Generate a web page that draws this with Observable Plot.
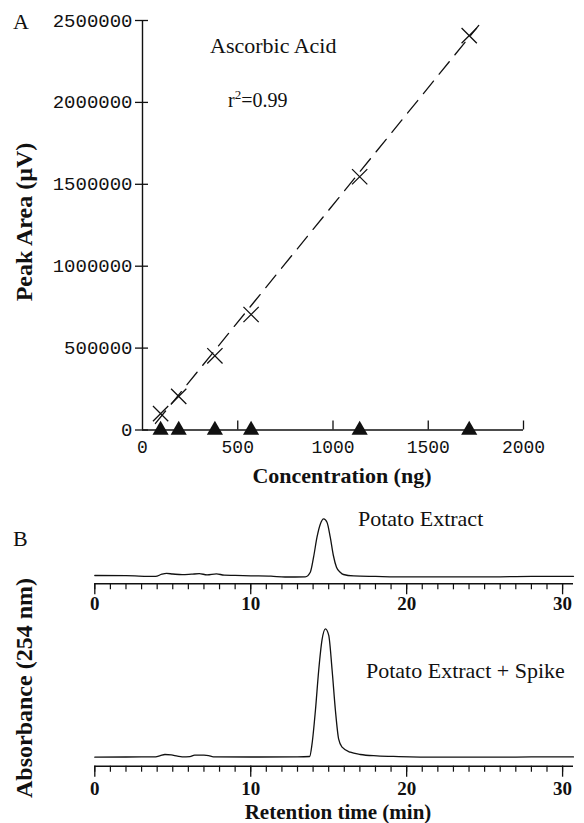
<!DOCTYPE html>
<html><head><meta charset="utf-8">
<script src="https://cdn.jsdelivr.net/npm/d3@7"></script>
<script src="https://cdn.jsdelivr.net/npm/@observablehq/plot@0.6"></script>
<style>
body{margin:0;background:#fff;}
#root{position:relative;width:584px;height:823px;overflow:hidden;background:#fff;}
#root > svg{position:absolute;left:0;margin:0;overflow:visible;}
</style></head><body><div id="root"></div>
<script>
// ---- Panel A data ----
const concentration = [95, 190, 380, 570, 1140, 1715];
const peakArea = [100000, 205000, 453000, 705000, 1546000, 2408000];
const blankArea = [0, 0, 0, 0, 0, 0];
const fitConcentration = [68, 1765];
const fitArea = [40000, 2470000];
const concTicks = [0, 500, 1000, 1500, 2000];
const areaTicks = [0, 500000, 1000000, 1500000, 2000000, 2500000];

// ---- Panel B data ----
const extractTime = [0, 2, 3.9, 4.3, 4.6, 5.0, 5.6, 6.2, 6.7, 7.2, 7.8, 8.3, 9, 10, 11.3, 12.2, 13.5, 13.82, 14.03, 14.25, 14.46, 14.68, 14.89, 15.1, 15.3, 15.5, 15.74, 15.95, 16.6, 18, 20, 23, 26, 28, 30.7];
const extractAbs = [1.7, 1.5, 0.8, 3.0, 3.8, 3.2, 2.5, 3.0, 3.5, 2.4, 3.4, 2.0, 1.8, 1.4, 1.0, 0.2, 0.4, 5, 20, 40, 53, 58.3, 55, 40, 21.7, 10, 5, 2.7, 1.3, 0.8, 0.3, 0.3, 0.4, 0.8, 0.9];
const spikeTime = [0, 2, 3.9, 4.2, 4.5, 4.9, 5.3, 5.6, 6.1, 6.4, 7.0, 7.3, 7.6, 10, 13.0, 13.78, 13.93, 14.15, 14.36, 14.57, 14.79, 15.0, 15.22, 15.43, 15.64, 15.86, 16.39, 17.03, 18.1, 19.5, 22, 26, 28, 30.7];
const spikeAbs = [0, 0.2, 0.3, 1.5, 2.7, 2.3, 1.0, 0.3, 0.5, 2.0, 2.0, 1.6, 0.3, 0.2, 0.3, 0.7, 13, 47, 87, 117, 128.3, 122, 87, 47, 18, 10, 5, 2.7, 1.3, 0.6, 0, 0, 0.3, 0.3];
const timeMajorTicks = [0, 10, 20, 30];
const timeMinorTicks = [0,1,2,3,4,5,6,7,8,9,10,11,12,13,14,15,16,17,18,19,20,21,22,23,24,25,26,27,28,29,30];

const root = document.getElementById("root");
const pts = concentration.map((c, i) => ({c, a: peakArea[i]}));
const blanks = concentration.map((c, i) => ({c, a: blankArea[i]}));
const fit = fitConcentration.map((c, i) => ({c, a: fitArea[i]}));

const mono = "'Liberation Mono', 'DejaVu Sans Mono', monospace";
const serif = "'Liberation Serif', 'DejaVu Serif', serif";

const plotA = Plot.plot({
  width: 584, height: 460,
  marginLeft: 142, marginRight: 61, marginTop: 20, marginBottom: 30.5,
  x: {domain: [0, 2000], label: null},
  y: {domain: [0, 2500000], label: null},
  style: {fontFamily: mono, fontSize: "18px", color: "#111", background: "none", overflow: "visible"},
  marks: [
    Plot.ruleX([0], {y1: 0, y2: 2500000, strokeWidth: 1.4}),
    Plot.ruleY([0], {x1: 0, x2: 2000, strokeWidth: 1.4}),
    Plot.axisY(areaTicks, {tickSize: 13, dx: 6, fill: "none", strokeWidth: 1.3, label: null}),
    Plot.axisY(areaTicks, {tickSize: 0, tickPadding: 10, tickFormat: d => String(d), fontSize: 19, label: null}),
    Plot.axisX(concTicks.slice(1), {tickSize: 9, dy: -9, fill: "none", strokeWidth: 1.3, label: null}),
    Plot.axisX(concTicks, {tickSize: 0, tickPadding: 10, tickFormat: d => String(d), fontSize: 18, label: null}),
    Plot.line(fit, {x: "c", y: "a", stroke: "#111", strokeWidth: 1.3, strokeDasharray: "16,9"}),
    Plot.dot(pts, {x: "c", y: "a", symbol: "times", r: 7, stroke: "#111", strokeWidth: 1.3}),
    Plot.dot(blanks, {x: "c", y: "a", symbol: "triangle", r: 6, fill: "#111", stroke: "none"})
  ]
});
plotA.style.top = "0px";
root.appendChild(plotA);

function chromatogram(times, abs, top, height, marginBottom, yDomain, pad) {
  const data = times.map((t, i) => ({t, v: abs[i]}));
  const p = Plot.plot({
    width: 584, height,
    marginLeft: 94.3, marginRight: 11, marginTop: 0, marginBottom,
    x: {domain: [0, 30.7], label: null},
    y: {domain: yDomain, label: null, axis: null},
    style: {fontFamily: serif, fontSize: "19px", fontWeight: "bold", color: "#111", background: "none", overflow: "visible"},
    marks: [
      Plot.ruleY([yDomain[0]], {x1: 0, x2: 30.7, strokeWidth: 1.4}),
      Plot.axisX(timeMinorTicks, {tickSize: 6, fill: "none", strokeWidth: 1.2, label: null}),
      Plot.axisX(timeMajorTicks, {tickSize: 11, fill: "none", strokeWidth: 1.3, label: null}),
      Plot.axisX(timeMajorTicks, {tickSize: 0, tickPadding: pad, tickFormat: d => String(d), fontSize: 19, fontWeight: "bold", label: null}),
      Plot.line(data, {x: "t", y: "v", curve: "monotone-x", stroke: "#111", strokeWidth: 1.3})
    ]
  });
  p.style.top = top + "px";
  root.appendChild(p);
}
chromatogram(extractTime, extractAbs, 505, 110, 31.7, [-6.6, 71.7], 13);
chromatogram(spikeTime, spikeAbs, 600, 200, 34.3, [-9, 156.7], 15);

// ---- text layer ----
const ns = "http://www.w3.org/2000/svg";
const overlay = document.createElementNS(ns, "svg");
overlay.setAttribute("width", 584);
overlay.setAttribute("height", 823);
overlay.style.top = "0px";
overlay.style.pointerEvents = "none";
overlay.innerHTML = `
<g font-family="${serif}" fill="#111">
  <text x="13" y="29" font-size="22">A</text>
  <text x="210" y="53" font-size="22">Ascorbic Acid</text>
  <text x="228" y="107" font-size="20">r<tspan font-size="13" dy="-8">2</tspan><tspan dy="8">=0.99</tspan></text>
  <text transform="translate(32,222) rotate(-90)" text-anchor="middle" font-size="24" font-weight="bold">Peak Area (µV)</text>
  <text x="342" y="483" text-anchor="middle" font-size="22" font-weight="bold">Concentration (ng)</text>
  <text x="13" y="546" font-size="22">B</text>
  <text x="358" y="526" font-size="22">Potato Extract</text>
  <text x="366" y="678" font-size="22">Potato Extract + Spike</text>
  <text transform="translate(32,688) rotate(-90)" text-anchor="middle" font-size="24" font-weight="bold">Absorbance (254 nm)</text>
  <text x="338" y="819" text-anchor="middle" font-size="21" font-weight="bold">Retention time (min)</text>
</g>`;
root.appendChild(overlay);
</script>
</body></html>
